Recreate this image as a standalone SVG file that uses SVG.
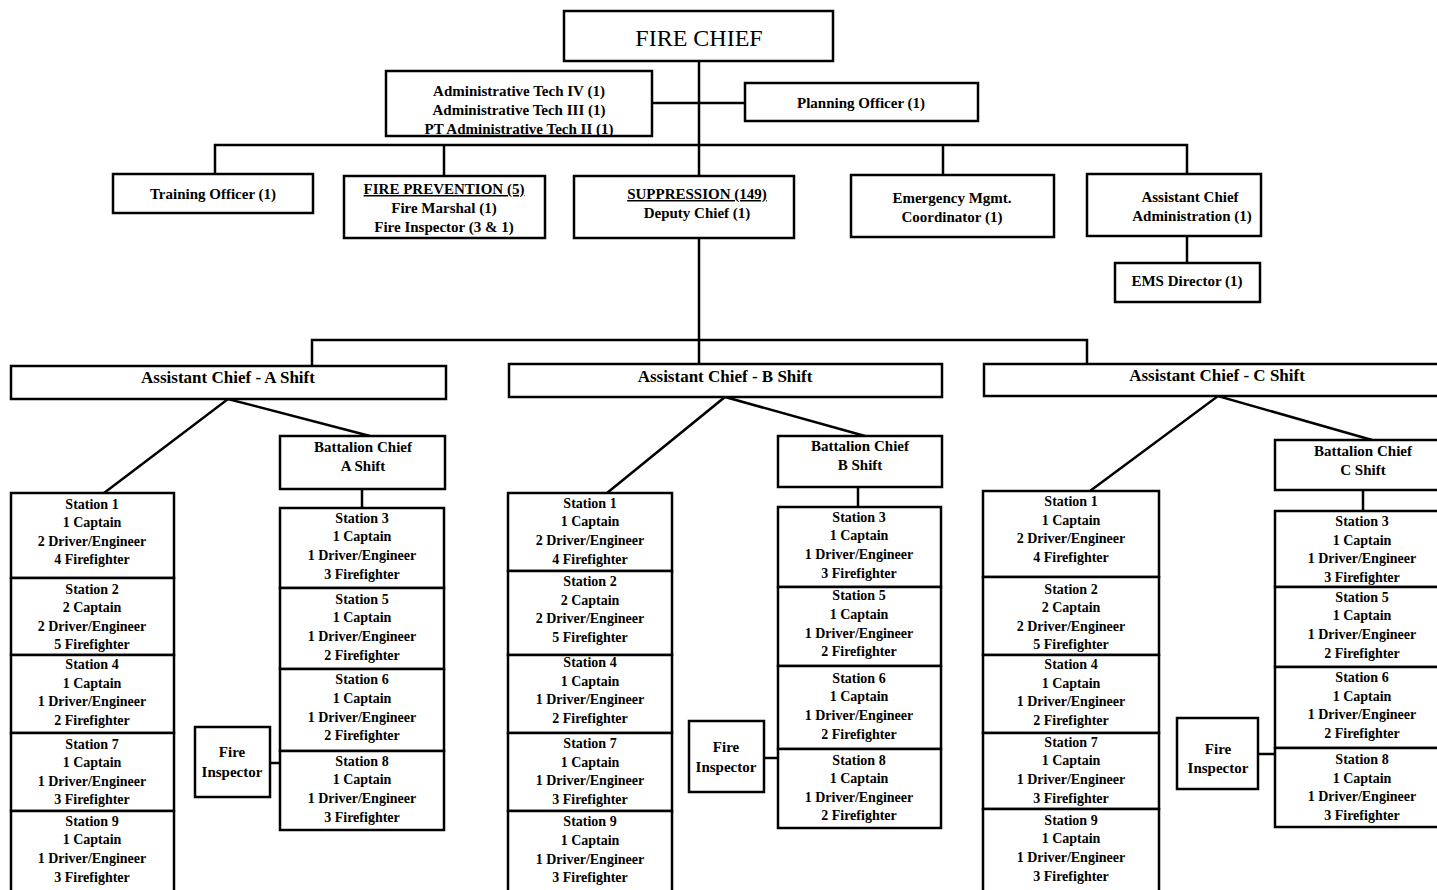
<svg xmlns="http://www.w3.org/2000/svg" width="1437" height="890" viewBox="0 0 1437 890">
<style>
.b{fill:#fff;stroke:#000;stroke-width:2.5}
.c{fill:none;stroke:#000;stroke-width:2.5}
text{font-family:"Liberation Serif","Times New Roman",serif;font-weight:bold;text-anchor:middle;fill:#000}
.t{font-size:15px}
.s{font-size:14px}
.h{font-size:17px}
.u{text-decoration:underline}
</style>
<rect width="1437" height="890" fill="#fff"/>
<g id="connectors">
<path class="c" d="M699 61V176M652 103H745M215 174V145H1187V174M444 145V176M943 145V175M1187 236V263"/>
<path class="c" d="M699 238V364M312 366V340H1087V364"/>
<path class="c" d="M104 493L228 399L370 436M362 489V508M270 763H280"/>
<path class="c" d="M607 493L725 397L865 436M858 487V507M764 758H778"/>
<path class="c" d="M1090 491L1218 396L1372 440M1363 490V511M1258 754H1275"/>
</g>
<g id="fire-chief"><rect class="b" x="564" y="11" width="269" height="50"/><text x="699" y="46" style="font-size:24px;font-weight:normal">FIRE CHIEF</text></g>
<g id="admin-tech"><rect class="b" x="386" y="71" width="266" height="65"/><text class="t"><tspan x="519" y="96">Administrative Tech IV (1)</tspan><tspan x="519" y="115">Administrative Tech III (1)</tspan><tspan x="519" y="134">PT Administrative Tech II  (1)</tspan></text></g>
<g id="planning"><rect class="b" x="745" y="83" width="233" height="38"/><text class="t" x="861" y="108">Planning Officer (1)</text></g>
<g id="training"><rect class="b" x="113" y="174" width="200" height="39"/><text class="t" x="213" y="199">Training Officer (1)</text></g>
<g id="fire-prevention"><rect class="b" x="344" y="176" width="201" height="62"/><text class="t"><tspan x="444" y="194" class="u">FIRE PREVENTION (5)</tspan><tspan x="444" y="213">Fire Marshal (1)</tspan><tspan x="444" y="232">Fire Inspector (3 &amp; 1)</tspan></text></g>
<g id="suppression"><rect class="b" x="574" y="176" width="220" height="62"/><text class="t"><tspan x="697" y="199" class="u">SUPPRESSION (149)</tspan><tspan x="697" y="218">Deputy Chief (1)</tspan></text></g>
<g id="emergency"><rect class="b" x="851" y="175" width="203" height="62"/><text class="t"><tspan x="952" y="203">Emergency Mgmt.</tspan><tspan x="952" y="222">Coordinator (1)</tspan></text></g>
<g id="asst-admin"><rect class="b" x="1087" y="174" width="174" height="62"/><text class="t"><tspan x="1190" y="202">Assistant Chief</tspan><tspan x="1192" y="221">Administration (1)</tspan></text></g>
<g id="ems"><rect class="b" x="1115" y="263" width="145" height="39"/><text class="t" x="1187" y="286">EMS Director (1)</text></g>
<g id="ac-a"><rect class="b" x="11" y="366" width="435" height="33"/><text class="h" x="228" y="383">Assistant Chief - A Shift</text></g>
<g id="ac-b"><rect class="b" x="509" y="364" width="433" height="33"/><text class="h" x="725" y="382">Assistant Chief - B Shift</text></g>
<g id="ac-c"><rect class="b" x="984" y="364" width="460" height="32"/><text class="h" x="1217" y="381">Assistant Chief - C Shift</text></g>
<g id="bc-a"><rect class="b" x="280" y="436" width="165" height="53"/><text class="t"><tspan x="363" y="452">Battalion Chief</tspan><tspan x="363" y="471">A Shift</tspan></text></g>
<g id="bc-b"><rect class="b" x="778" y="436" width="164" height="51"/><text class="t"><tspan x="860" y="451">Battalion Chief</tspan><tspan x="860" y="470">B Shift</tspan></text></g>
<g id="bc-c"><rect class="b" x="1275" y="440" width="170" height="50"/><text class="t"><tspan x="1363" y="456">Battalion Chief</tspan><tspan x="1363" y="475">C Shift</tspan></text></g>
<g id="fi-a"><rect class="b" x="195" y="727" width="75" height="70"/><text class="t"><tspan x="232" y="757">Fire</tspan><tspan x="232" y="777">Inspector</tspan></text></g>
<g id="fi-b"><rect class="b" x="689" y="721" width="75" height="71"/><text class="t"><tspan x="726" y="752">Fire</tspan><tspan x="726" y="772">Inspector</tspan></text></g>
<g id="fi-c"><rect class="b" x="1177" y="718" width="81" height="71"/><text class="t"><tspan x="1218" y="754">Fire</tspan><tspan x="1218" y="773">Inspector</tspan></text></g>
<!-- A left -->
<g id="a-s1"><rect class="b" x="11" y="493" width="163" height="85"/><text class="s"><tspan x="92" y="509">Station 1</tspan><tspan x="92" y="527">1 Captain</tspan><tspan x="92" y="546">2 Driver/Engineer</tspan><tspan x="92" y="564">4 Firefighter</tspan></text></g>
<g id="a-s2"><rect class="b" x="11" y="578" width="163" height="77"/><text class="s"><tspan x="92" y="594">Station 2</tspan><tspan x="92" y="612">2 Captain</tspan><tspan x="92" y="631">2 Driver/Engineer</tspan><tspan x="92" y="649">5 Firefighter</tspan></text></g>
<g id="a-s4"><rect class="b" x="11" y="655" width="163" height="78"/><text class="s"><tspan x="92" y="669">Station 4</tspan><tspan x="92" y="688">1 Captain</tspan><tspan x="92" y="706">1 Driver/Engineer</tspan><tspan x="92" y="725">2 Firefighter</tspan></text></g>
<g id="a-s7"><rect class="b" x="11" y="733" width="163" height="78"/><text class="s"><tspan x="92" y="749">Station 7</tspan><tspan x="92" y="767">1 Captain</tspan><tspan x="92" y="786">1 Driver/Engineer</tspan><tspan x="92" y="804">3 Firefighter</tspan></text></g>
<g id="a-s9"><rect class="b" x="11" y="811" width="163" height="85"/><text class="s"><tspan x="92" y="826">Station 9</tspan><tspan x="92" y="844">1 Captain</tspan><tspan x="92" y="863">1 Driver/Engineer</tspan><tspan x="92" y="882">3 Firefighter</tspan></text></g>
<!-- A right -->
<g id="a-s3"><rect class="b" x="280" y="508" width="164" height="80"/><text class="s"><tspan x="362" y="523">Station 3</tspan><tspan x="362" y="541">1 Captain</tspan><tspan x="362" y="560">1 Driver/Engineer</tspan><tspan x="362" y="579">3 Firefighter</tspan></text></g>
<g id="a-s5"><rect class="b" x="280" y="588" width="164" height="81"/><text class="s"><tspan x="362" y="604">Station 5</tspan><tspan x="362" y="622">1 Captain</tspan><tspan x="362" y="641">1 Driver/Engineer</tspan><tspan x="362" y="660">2 Firefighter</tspan></text></g>
<g id="a-s6"><rect class="b" x="280" y="669" width="164" height="82"/><text class="s"><tspan x="362" y="684">Station 6</tspan><tspan x="362" y="703">1 Captain</tspan><tspan x="362" y="722">1 Driver/Engineer</tspan><tspan x="362" y="740">2 Firefighter</tspan></text></g>
<g id="a-s8"><rect class="b" x="280" y="751" width="164" height="79"/><text class="s"><tspan x="362" y="766">Station 8</tspan><tspan x="362" y="784">1 Captain</tspan><tspan x="362" y="803">1 Driver/Engineer</tspan><tspan x="362" y="822">3 Firefighter</tspan></text></g>
<!-- B left -->
<g id="b-s1"><rect class="b" x="508" y="493" width="164" height="78"/><text class="s"><tspan x="590" y="508">Station 1</tspan><tspan x="590" y="526">1 Captain</tspan><tspan x="590" y="545">2 Driver/Engineer</tspan><tspan x="590" y="564">4 Firefighter</tspan></text></g>
<g id="b-s2"><rect class="b" x="508" y="571" width="164" height="84"/><text class="s"><tspan x="590" y="586">Station 2</tspan><tspan x="590" y="605">2 Captain</tspan><tspan x="590" y="623">2 Driver/Engineer</tspan><tspan x="590" y="642">5 Firefighter</tspan></text></g>
<g id="b-s4"><rect class="b" x="508" y="655" width="164" height="78"/><text class="s"><tspan x="590" y="667">Station 4</tspan><tspan x="590" y="686">1 Captain</tspan><tspan x="590" y="704">1 Driver/Engineer</tspan><tspan x="590" y="723">2 Firefighter</tspan></text></g>
<g id="b-s7"><rect class="b" x="508" y="733" width="164" height="78"/><text class="s"><tspan x="590" y="748">Station 7</tspan><tspan x="590" y="767">1 Captain</tspan><tspan x="590" y="785">1 Driver/Engineer</tspan><tspan x="590" y="804">3 Firefighter</tspan></text></g>
<g id="b-s9"><rect class="b" x="508" y="811" width="164" height="85"/><text class="s"><tspan x="590" y="826">Station 9</tspan><tspan x="590" y="845">1 Captain</tspan><tspan x="590" y="864">1 Driver/Engineer</tspan><tspan x="590" y="882">3 Firefighter</tspan></text></g>
<!-- B right -->
<g id="b-s3"><rect class="b" x="778" y="507" width="163" height="80"/><text class="s"><tspan x="859" y="522">Station 3</tspan><tspan x="859" y="540">1 Captain</tspan><tspan x="859" y="559">1 Driver/Engineer</tspan><tspan x="859" y="578">3 Firefighter</tspan></text></g>
<g id="b-s5"><rect class="b" x="778" y="587" width="163" height="79"/><text class="s"><tspan x="859" y="600">Station 5</tspan><tspan x="859" y="619">1 Captain</tspan><tspan x="859" y="638">1 Driver/Engineer</tspan><tspan x="859" y="656">2 Firefighter</tspan></text></g>
<g id="b-s6"><rect class="b" x="778" y="666" width="163" height="83"/><text class="s"><tspan x="859" y="683">Station 6</tspan><tspan x="859" y="701">1 Captain</tspan><tspan x="859" y="720">1 Driver/Engineer</tspan><tspan x="859" y="739">2 Firefighter</tspan></text></g>
<g id="b-s8"><rect class="b" x="778" y="749" width="163" height="79"/><text class="s"><tspan x="859" y="765">Station 8</tspan><tspan x="859" y="783">1 Captain</tspan><tspan x="859" y="802">1 Driver/Engineer</tspan><tspan x="859" y="820">2 Firefighter</tspan></text></g>
<!-- C left -->
<g id="c-s1"><rect class="b" x="983" y="491" width="176" height="86"/><text class="s"><tspan x="1071" y="506">Station 1</tspan><tspan x="1071" y="525">1 Captain</tspan><tspan x="1071" y="543">2 Driver/Engineer</tspan><tspan x="1071" y="562">4 Firefighter</tspan></text></g>
<g id="c-s2"><rect class="b" x="983" y="577" width="176" height="78"/><text class="s"><tspan x="1071" y="594">Station 2</tspan><tspan x="1071" y="612">2 Captain</tspan><tspan x="1071" y="631">2 Driver/Engineer</tspan><tspan x="1071" y="649">5 Firefighter</tspan></text></g>
<g id="c-s4"><rect class="b" x="983" y="655" width="176" height="78"/><text class="s"><tspan x="1071" y="669">Station 4</tspan><tspan x="1071" y="688">1 Captain</tspan><tspan x="1071" y="706">1 Driver/Engineer</tspan><tspan x="1071" y="725">2 Firefighter</tspan></text></g>
<g id="c-s7"><rect class="b" x="983" y="733" width="176" height="76"/><text class="s"><tspan x="1071" y="747">Station 7</tspan><tspan x="1071" y="765">1 Captain</tspan><tspan x="1071" y="784">1 Driver/Engineer</tspan><tspan x="1071" y="803">3 Firefighter</tspan></text></g>
<g id="c-s9"><rect class="b" x="983" y="809" width="176" height="87"/><text class="s"><tspan x="1071" y="825">Station 9</tspan><tspan x="1071" y="843">1 Captain</tspan><tspan x="1071" y="862">1 Driver/Engineer</tspan><tspan x="1071" y="881">3 Firefighter</tspan></text></g>
<!-- C right -->
<g id="c-s3"><rect class="b" x="1275" y="511" width="170" height="76"/><text class="s"><tspan x="1362" y="526">Station 3</tspan><tspan x="1362" y="545">1 Captain</tspan><tspan x="1362" y="563">1 Driver/Engineer</tspan><tspan x="1362" y="582">3 Firefighter</tspan></text></g>
<g id="c-s5"><rect class="b" x="1275" y="587" width="170" height="80"/><text class="s"><tspan x="1362" y="602">Station 5</tspan><tspan x="1362" y="620">1 Captain</tspan><tspan x="1362" y="639">1 Driver/Engineer</tspan><tspan x="1362" y="658">2 Firefighter</tspan></text></g>
<g id="c-s6"><rect class="b" x="1275" y="667" width="170" height="81"/><text class="s"><tspan x="1362" y="682">Station 6</tspan><tspan x="1362" y="701">1 Captain</tspan><tspan x="1362" y="719">1 Driver/Engineer</tspan><tspan x="1362" y="738">2 Firefighter</tspan></text></g>
<g id="c-s8"><rect class="b" x="1275" y="748" width="170" height="79"/><text class="s"><tspan x="1362" y="764">Station 8</tspan><tspan x="1362" y="783">1 Captain</tspan><tspan x="1362" y="801">1 Driver/Engineer</tspan><tspan x="1362" y="820">3 Firefighter</tspan></text></g>
</svg>
